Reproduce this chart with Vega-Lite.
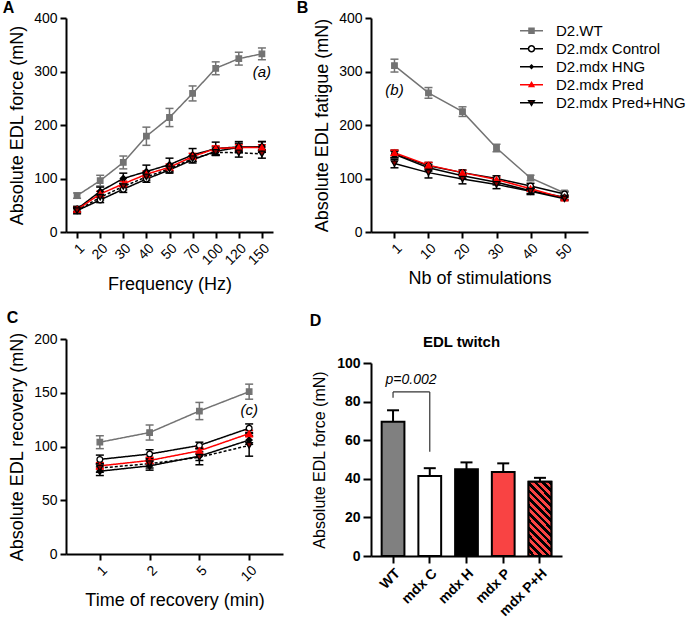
{
  "$schema": "https://vega.github.io/schema/vega-lite/v6.json",
  "padding": {"left": 2, "top": 0, "right": 0, "bottom": 0},
  "config": {
    "font": "Liberation Sans",
    "view": {"stroke": null},
    "axis": {"domainColor": "black", "domainWidth": 2, "tickColor": "black", "tickWidth": 2, "tickSize": 6, "labelFont": "Liberation Sans", "labelFontSize": 14, "labelColor": "black", "labelPadding": 3, "titleFont": "Liberation Sans", "titleFontSize": 18, "titleFontWeight": "normal", "titleColor": "black", "titlePadding": 7, "grid": false},
    "title": {"fontSize": 16, "fontWeight": "bold", "anchor": "start", "frame": "bounds", "offset": -5, "color": "black", "font": "Liberation Sans"}
  },
  "datasets": {
    "A": [
      {"x": 1, "group": "D2.WT", "mean": 68, "lo": 63, "hi": 73},
      {"x": 20, "group": "D2.WT", "mean": 96, "lo": 86, "hi": 106},
      {"x": 30, "group": "D2.WT", "mean": 130, "lo": 118, "hi": 142},
      {"x": 40, "group": "D2.WT", "mean": 179, "lo": 162, "hi": 196},
      {"x": 50, "group": "D2.WT", "mean": 214, "lo": 197, "hi": 231},
      {"x": 70, "group": "D2.WT", "mean": 259, "lo": 245, "hi": 273},
      {"x": 100, "group": "D2.WT", "mean": 306, "lo": 294, "hi": 318},
      {"x": 120, "group": "D2.WT", "mean": 324, "lo": 312, "hi": 336},
      {"x": 150, "group": "D2.WT", "mean": 333, "lo": 322, "hi": 344},
      {"x": 1, "group": "D2.mdx Control", "mean": 40, "lo": 36, "hi": 44},
      {"x": 20, "group": "D2.mdx Control", "mean": 60, "lo": 55, "hi": 65},
      {"x": 30, "group": "D2.mdx Control", "mean": 80, "lo": 74, "hi": 86},
      {"x": 40, "group": "D2.mdx Control", "mean": 99, "lo": 93, "hi": 105},
      {"x": 50, "group": "D2.mdx Control", "mean": 116, "lo": 110, "hi": 122},
      {"x": 70, "group": "D2.mdx Control", "mean": 135, "lo": 129, "hi": 141},
      {"x": 100, "group": "D2.mdx Control", "mean": 151, "lo": 143, "hi": 159},
      {"x": 120, "group": "D2.mdx Control", "mean": 158, "lo": 150, "hi": 166},
      {"x": 150, "group": "D2.mdx Control", "mean": 159, "lo": 149, "hi": 169},
      {"x": 1, "group": "D2.mdx HNG", "mean": 43, "lo": 38, "hi": 48},
      {"x": 20, "group": "D2.mdx HNG", "mean": 76, "lo": 68, "hi": 84},
      {"x": 30, "group": "D2.mdx HNG", "mean": 100, "lo": 90, "hi": 110},
      {"x": 40, "group": "D2.mdx HNG", "mean": 113, "lo": 101, "hi": 125},
      {"x": 50, "group": "D2.mdx HNG", "mean": 126, "lo": 114, "hi": 138},
      {"x": 70, "group": "D2.mdx HNG", "mean": 144, "lo": 132, "hi": 156},
      {"x": 100, "group": "D2.mdx HNG", "mean": 156, "lo": 144, "hi": 168},
      {"x": 120, "group": "D2.mdx HNG", "mean": 159, "lo": 149, "hi": 169},
      {"x": 150, "group": "D2.mdx HNG", "mean": 159, "lo": 149, "hi": 169},
      {"x": 1, "group": "D2.mdx Pred", "mean": 42, "lo": 38, "hi": 46},
      {"x": 20, "group": "D2.mdx Pred", "mean": 71, "lo": 66, "hi": 76},
      {"x": 30, "group": "D2.mdx Pred", "mean": 90, "lo": 85, "hi": 95},
      {"x": 40, "group": "D2.mdx Pred", "mean": 108, "lo": 102, "hi": 114},
      {"x": 50, "group": "D2.mdx Pred", "mean": 121, "lo": 115, "hi": 127},
      {"x": 70, "group": "D2.mdx Pred", "mean": 141, "lo": 135, "hi": 147},
      {"x": 100, "group": "D2.mdx Pred", "mean": 156, "lo": 151, "hi": 161},
      {"x": 120, "group": "D2.mdx Pred", "mean": 158, "lo": 153, "hi": 163},
      {"x": 150, "group": "D2.mdx Pred", "mean": 158, "lo": 153, "hi": 163},
      {"x": 1, "group": "D2.mdx Pred+HNG", "mean": 40, "lo": 34, "hi": 46},
      {"x": 20, "group": "D2.mdx Pred+HNG", "mean": 65, "lo": 60, "hi": 70},
      {"x": 30, "group": "D2.mdx Pred+HNG", "mean": 85, "lo": 79, "hi": 91},
      {"x": 40, "group": "D2.mdx Pred+HNG", "mean": 103, "lo": 97, "hi": 109},
      {"x": 50, "group": "D2.mdx Pred+HNG", "mean": 118, "lo": 112, "hi": 124},
      {"x": 70, "group": "D2.mdx Pred+HNG", "mean": 137, "lo": 132, "hi": 142},
      {"x": 100, "group": "D2.mdx Pred+HNG", "mean": 149, "lo": 144, "hi": 154},
      {"x": 120, "group": "D2.mdx Pred+HNG", "mean": 148, "lo": 140, "hi": 156},
      {"x": 150, "group": "D2.mdx Pred+HNG", "mean": 146, "lo": 138, "hi": 154}
    ],
    "B": [
      {"x": 1, "group": "D2.WT", "mean": 311, "lo": 299, "hi": 323},
      {"x": 10, "group": "D2.WT", "mean": 260, "lo": 250, "hi": 270},
      {"x": 20, "group": "D2.WT", "mean": 225, "lo": 216, "hi": 234},
      {"x": 30, "group": "D2.WT", "mean": 157, "lo": 150, "hi": 164},
      {"x": 40, "group": "D2.WT", "mean": 101, "lo": 96, "hi": 106},
      {"x": 50, "group": "D2.WT", "mean": 73, "lo": 69, "hi": 77},
      {"x": 1, "group": "D2.mdx Control", "mean": 146, "lo": 139, "hi": 153},
      {"x": 10, "group": "D2.mdx Control", "mean": 124, "lo": 118, "hi": 130},
      {"x": 20, "group": "D2.mdx Control", "mean": 111, "lo": 106, "hi": 116},
      {"x": 30, "group": "D2.mdx Control", "mean": 100, "lo": 95, "hi": 105},
      {"x": 40, "group": "D2.mdx Control", "mean": 86, "lo": 81, "hi": 91},
      {"x": 50, "group": "D2.mdx Control", "mean": 71, "lo": 67, "hi": 75},
      {"x": 1, "group": "D2.mdx HNG", "mean": 145, "lo": 139, "hi": 151},
      {"x": 10, "group": "D2.mdx HNG", "mean": 120, "lo": 114, "hi": 126},
      {"x": 20, "group": "D2.mdx HNG", "mean": 105, "lo": 100, "hi": 110},
      {"x": 30, "group": "D2.mdx HNG", "mean": 93, "lo": 88, "hi": 98},
      {"x": 40, "group": "D2.mdx HNG", "mean": 77, "lo": 72, "hi": 82},
      {"x": 50, "group": "D2.mdx HNG", "mean": 65, "lo": 61, "hi": 69},
      {"x": 1, "group": "D2.mdx Pred", "mean": 148, "lo": 143, "hi": 153},
      {"x": 10, "group": "D2.mdx Pred", "mean": 125, "lo": 120, "hi": 130},
      {"x": 20, "group": "D2.mdx Pred", "mean": 111, "lo": 107, "hi": 115},
      {"x": 30, "group": "D2.mdx Pred", "mean": 98, "lo": 94, "hi": 102},
      {"x": 40, "group": "D2.mdx Pred", "mean": 81, "lo": 77, "hi": 85},
      {"x": 50, "group": "D2.mdx Pred", "mean": 63, "lo": 60, "hi": 66},
      {"x": 1, "group": "D2.mdx Pred+HNG", "mean": 128, "lo": 120, "hi": 136},
      {"x": 10, "group": "D2.mdx Pred+HNG", "mean": 111, "lo": 101, "hi": 121},
      {"x": 20, "group": "D2.mdx Pred+HNG", "mean": 99, "lo": 90, "hi": 108},
      {"x": 30, "group": "D2.mdx Pred+HNG", "mean": 89, "lo": 81, "hi": 97},
      {"x": 40, "group": "D2.mdx Pred+HNG", "mean": 76, "lo": 70, "hi": 82},
      {"x": 50, "group": "D2.mdx Pred+HNG", "mean": 62, "lo": 59, "hi": 65}
    ],
    "C": [
      {"x": 1, "group": "D2.WT", "mean": 104, "lo": 98, "hi": 110},
      {"x": 2, "group": "D2.WT", "mean": 113, "lo": 106, "hi": 120},
      {"x": 5, "group": "D2.WT", "mean": 133, "lo": 125, "hi": 141},
      {"x": 10, "group": "D2.WT", "mean": 151, "lo": 144, "hi": 158},
      {"x": 1, "group": "D2.mdx Control", "mean": 88, "lo": 84, "hi": 92},
      {"x": 2, "group": "D2.mdx Control", "mean": 93, "lo": 89, "hi": 97},
      {"x": 5, "group": "D2.mdx Control", "mean": 101, "lo": 98, "hi": 104},
      {"x": 10, "group": "D2.mdx Control", "mean": 117, "lo": 113, "hi": 121},
      {"x": 1, "group": "D2.mdx HNG", "mean": 77, "lo": 73, "hi": 81},
      {"x": 2, "group": "D2.mdx HNG", "mean": 82, "lo": 78, "hi": 86},
      {"x": 5, "group": "D2.mdx HNG", "mean": 91, "lo": 87, "hi": 95},
      {"x": 10, "group": "D2.mdx HNG", "mean": 106, "lo": 102, "hi": 110},
      {"x": 1, "group": "D2.mdx Pred", "mean": 82, "lo": 79, "hi": 85},
      {"x": 2, "group": "D2.mdx Pred", "mean": 87, "lo": 84, "hi": 90},
      {"x": 5, "group": "D2.mdx Pred", "mean": 96, "lo": 93, "hi": 99},
      {"x": 10, "group": "D2.mdx Pred", "mean": 112, "lo": 109, "hi": 115},
      {"x": 1, "group": "D2.mdx Pred+HNG", "mean": 80, "lo": 76, "hi": 84},
      {"x": 2, "group": "D2.mdx Pred+HNG", "mean": 84, "lo": 80, "hi": 88},
      {"x": 5, "group": "D2.mdx Pred+HNG", "mean": 90, "lo": 83, "hi": 98},
      {"x": 10, "group": "D2.mdx Pred+HNG", "mean": 101, "lo": 91, "hi": 112}
    ],
    "D": [
      {"bar": "WT", "mean": 69.5, "hi": 75.5},
      {"bar": "mdx C", "mean": 41.5, "hi": 45.5},
      {"bar": "mdx H", "mean": 45, "hi": 48.5},
      {"bar": "mdx P", "mean": 43.5, "hi": 48},
      {"bar": "mdx P+H", "mean": 38.5, "hi": 40.5}
    ]
  },
  "concat": [
    {
      "width": 207, "height": 214,
      "title": {"text": "A", "dx": -6},
      "data": {"name": "A"},
      "encoding": {
        "x": {"field": "x", "type": "ordinal", "scale": {"type": "point", "padding": 0.48}, "axis": {"labelAngle": -45, "title": "Frequency (Hz)", "titlePadding": 8}}
      },
      "layer": [
        {"mark": {"type": "rule", "strokeWidth": 1.5},
         "encoding": {"y": {"field": "lo", "type": "quantitative", "title": "Absolute EDL force (mN)", "scale": {"domain": [0, 400]}, "axis": {"values": [0, 100, 200, 300, 400]}}, "y2": {"field": "hi"},
           "stroke": {"field": "group", "type": "nominal", "scale": {"domain": ["D2.WT", "D2.mdx Control", "D2.mdx HNG", "D2.mdx Pred", "D2.mdx Pred+HNG"], "range": ["#737373", "black", "black", "#ff0000", "black"]}, "legend": null}}},
        {"mark": {"type": "rule", "strokeWidth": 1.5, "xOffset": -4, "x2Offset": 4},
         "encoding": {"x2": {"field": "x"}, "y": {"field": "lo", "type": "quantitative", "title": "Absolute EDL force (mN)"}, "stroke": {"field": "group", "type": "nominal"}}},
        {"mark": {"type": "rule", "strokeWidth": 1.5, "xOffset": -4, "x2Offset": 4},
         "encoding": {"x2": {"field": "x"}, "y": {"field": "hi", "type": "quantitative", "title": "Absolute EDL force (mN)"}, "stroke": {"field": "group", "type": "nominal"}}},
        {"mark": {"type": "line", "strokeWidth": 1.5},
         "encoding": {"y": {"field": "mean", "type": "quantitative", "title": "Absolute EDL force (mN)"}, "stroke": {"field": "group", "type": "nominal"},
           "strokeDash": {"field": "group", "type": "nominal", "scale": {"domain": ["D2.WT", "D2.mdx Control", "D2.mdx HNG", "D2.mdx Pred", "D2.mdx Pred+HNG"], "range": [[1, 0], [1, 0], [1, 0], [1, 0], [3, 2]]}, "legend": null}}},
        {"mark": {"type": "point", "filled": true, "strokeWidth": 1.3, "opacity": 1},
         "encoding": {"y": {"field": "mean", "type": "quantitative", "title": "Absolute EDL force (mN)"}, "stroke": {"field": "group", "type": "nominal"},
           "shape": {"field": "group", "type": "nominal", "scale": {"domain": ["D2.WT", "D2.mdx Control", "D2.mdx HNG", "D2.mdx Pred", "D2.mdx Pred+HNG"], "range": ["square", "circle", "diamond", "triangle-up", "triangle-down"]}, "legend": null},
           "fill": {"field": "group", "type": "nominal", "scale": {"domain": ["D2.WT", "D2.mdx Control", "D2.mdx HNG", "D2.mdx Pred", "D2.mdx Pred+HNG"], "range": ["#737373", "white", "black", "#ff0000", "#8b0000"]}, "legend": null},
           "size": {"field": "group", "type": "nominal", "scale": {"domain": ["D2.WT", "D2.mdx Control", "D2.mdx HNG", "D2.mdx Pred", "D2.mdx Pred+HNG"], "range": [30, 40, 14, 26, 34]}, "legend": null}}},
        {"data": {"values": [{"x": 150, "y": 300, "label": "(a)"}]},
         "mark": {"type": "text", "fontStyle": "italic", "fontSize": 15, "color": "black"},
         "encoding": {"y": {"field": "y", "type": "quantitative", "title": "Absolute EDL force (mN)"}, "text": {"field": "label"}}}
      ]
    },
    {
      "width": 217, "height": 214,
      "title": {"text": "B", "dx": -17},
      "data": {"name": "B"},
      "encoding": {
        "x": {"field": "x", "type": "ordinal", "scale": {"type": "point", "padding": 0.69}, "axis": {"labelAngle": -45, "title": "Nb of stimulations", "titlePadding": 8}}
      },
      "layer": [
        {"mark": {"type": "rule", "strokeWidth": 1.5},
         "encoding": {"y": {"field": "lo", "type": "quantitative", "title": "Absolute EDL fatigue (mN)", "scale": {"domain": [0, 400]}, "axis": {"values": [0, 100, 200, 300, 400]}}, "y2": {"field": "hi"},
           "stroke": {"field": "group", "type": "nominal", "scale": {"domain": ["D2.WT", "D2.mdx Control", "D2.mdx HNG", "D2.mdx Pred", "D2.mdx Pred+HNG"], "range": ["#737373", "black", "black", "#ff0000", "black"]},
             "legend": {"title": null, "orient": "none", "legendX": 148, "legendY": 5, "padding": 0, "labelFontSize": 15, "labelFont": "Liberation Sans", "labelColor": "black", "symbolSize": 529, "symbolStrokeWidth": 1.5, "labelOffset": 12, "rowPadding": 2, "clipHeight": 15.5,
               "encode": {"symbols": {"update": {
                 "shape": {"signal": "datum.value === 'D2.WT' ? 'M-1,0H1M-0.22,-0.22H0.22V0.22H-0.22Z' : datum.value === 'D2.mdx Control' ? 'M-1,0H-0.26M0.26,0H1M0.26,0A0.26,0.26,0,1,1,-0.26,0A0.26,0.26,0,1,1,0.26,0Z' : datum.value === 'D2.mdx HNG' ? 'M-1,0H1M0,-0.14L0.14,0L0,0.14L-0.14,0Z' : datum.value === 'D2.mdx Pred' ? 'M-1,0H1M0,-0.2L0.2,0.15H-0.2Z' : 'M-1,0H1M-0.24,-0.17H0.24L0,0.22Z'"},
                 "fill": {"signal": "datum.value === 'D2.WT' ? '#737373' : datum.value === 'D2.mdx Control' ? 'white' : datum.value === 'D2.mdx HNG' ? 'black' : datum.value === 'D2.mdx Pred' ? '#ff0000' : '#8b0000'"},
                 "stroke": {"signal": "datum.value === 'D2.WT' ? '#737373' : datum.value === 'D2.mdx Pred' ? '#ff0000' : 'black'"},
                 "size": {"value": 529}, "opacity": {"value": 1}, "fillOpacity": {"value": 1}, "strokeWidth": {"value": 1.5}
               }}}}}}},
        {"mark": {"type": "rule", "strokeWidth": 1.5, "xOffset": -4, "x2Offset": 4},
         "encoding": {"x2": {"field": "x"}, "y": {"field": "lo", "type": "quantitative", "title": "Absolute EDL fatigue (mN)"}, "stroke": {"field": "group", "type": "nominal"}}},
        {"mark": {"type": "rule", "strokeWidth": 1.5, "xOffset": -4, "x2Offset": 4},
         "encoding": {"x2": {"field": "x"}, "y": {"field": "hi", "type": "quantitative", "title": "Absolute EDL fatigue (mN)"}, "stroke": {"field": "group", "type": "nominal"}}},
        {"mark": {"type": "line", "strokeWidth": 1.5},
         "encoding": {"y": {"field": "mean", "type": "quantitative", "title": "Absolute EDL fatigue (mN)"}, "stroke": {"field": "group", "type": "nominal"}}},
        {"mark": {"type": "point", "filled": true, "strokeWidth": 1.3, "opacity": 1},
         "encoding": {"y": {"field": "mean", "type": "quantitative", "title": "Absolute EDL fatigue (mN)"}, "stroke": {"field": "group", "type": "nominal"},
           "shape": {"field": "group", "type": "nominal", "legend": null}, "fill": {"field": "group", "type": "nominal", "legend": null}, "size": {"field": "group", "type": "nominal", "legend": null}}},
        {"data": {"values": [{"x": 1, "y": 266, "label": "(b)"}]},
         "mark": {"type": "text", "fontStyle": "italic", "fontSize": 15, "color": "black"},
         "encoding": {"y": {"field": "y", "type": "quantitative", "title": "Absolute EDL fatigue (mN)"}, "text": {"field": "label"}}}
      ]
    },
    {
      "width": 217, "height": 215,
      "title": {"text": "C", "dx": -2, "offset": 6},
      "data": {"name": "C"},
      "encoding": {
        "x": {"field": "x", "type": "ordinal", "scale": {"type": "point", "padding": 0.68}, "axis": {"labelAngle": -45, "title": "Time of recovery (min)", "titlePadding": 8}}
      },
      "layer": [
        {"mark": {"type": "rule", "strokeWidth": 1.5},
         "encoding": {"y": {"field": "lo", "type": "quantitative", "title": "Absolute EDL recovery (mN)", "scale": {"domain": [0, 200]}, "axis": {"values": [0, 50, 100, 150, 200]}}, "y2": {"field": "hi"},
           "stroke": {"field": "group", "type": "nominal", "scale": {"domain": ["D2.WT", "D2.mdx Control", "D2.mdx HNG", "D2.mdx Pred", "D2.mdx Pred+HNG"], "range": ["#737373", "black", "black", "#ff0000", "black"]}, "legend": null}}},
        {"mark": {"type": "rule", "strokeWidth": 1.5, "xOffset": -4, "x2Offset": 4},
         "encoding": {"x2": {"field": "x"}, "y": {"field": "lo", "type": "quantitative", "title": "Absolute EDL recovery (mN)"}, "stroke": {"field": "group", "type": "nominal"}}},
        {"mark": {"type": "rule", "strokeWidth": 1.5, "xOffset": -4, "x2Offset": 4},
         "encoding": {"x2": {"field": "x"}, "y": {"field": "hi", "type": "quantitative", "title": "Absolute EDL recovery (mN)"}, "stroke": {"field": "group", "type": "nominal"}}},
        {"mark": {"type": "line", "strokeWidth": 1.5},
         "encoding": {"y": {"field": "mean", "type": "quantitative", "title": "Absolute EDL recovery (mN)"}, "stroke": {"field": "group", "type": "nominal"}, "strokeDash": {"field": "group", "type": "nominal", "legend": null}}},
        {"mark": {"type": "point", "filled": true, "strokeWidth": 1.3, "opacity": 1},
         "encoding": {"y": {"field": "mean", "type": "quantitative", "title": "Absolute EDL recovery (mN)"}, "stroke": {"field": "group", "type": "nominal"},
           "shape": {"field": "group", "type": "nominal", "legend": null}, "fill": {"field": "group", "type": "nominal", "legend": null}, "size": {"field": "group", "type": "nominal", "legend": null}}},
        {"data": {"values": [{"x": 10, "y": 134, "label": "(c)"}]},
         "mark": {"type": "text", "fontStyle": "italic", "fontSize": 15, "color": "black"},
         "encoding": {"y": {"field": "y", "type": "quantitative", "title": "Absolute EDL recovery (mN)"}, "text": {"field": "label"}}}
      ]
    },
    {
      "width": 191, "height": 217,
      "title": {"text": "D", "dx": -2, "offset": 6},
      "data": {"name": "D"},
      "encoding": {
        "x": {"field": "bar", "type": "nominal", "sort": ["WT", "mdx C", "mdx H", "mdx P", "mdx P+H"], "scale": {"paddingInner": 0.38, "paddingOuter": 0.29}, "axis": {"labelAngle": -45, "title": null, "labelFontWeight": "bold", "tickSize": 7}}
      },
      "layer": [
        {"mark": {"type": "bar", "stroke": "black", "strokeWidth": 2},
         "encoding": {"y": {"field": "mean", "type": "quantitative", "title": "Absolute EDL force (mN)", "scale": {"domain": [0, 100], "range": [217, 24]}, "axis": {"values": [0, 20, 40, 60, 80, 100], "labelFontWeight": "bold", "titleFontSize": 16, "tickSize": 8, "titlePadding": 9}},
           "color": {"field": "bar", "type": "nominal", "scale": {"domain": ["WT", "mdx C", "mdx H", "mdx P", "mdx P+H"], "range": ["#808080", "#ffffff", "#000000", "#f94343", "#f94343"]}, "legend": null}}},
        {"transform": [{"filter": "datum.bar === 'mdx P+H'"}],
         "mark": {"type": "bar", "stroke": "black", "strokeWidth": 2, "fill": {"gradient": "linear", "x1": 0, "y1": 1, "x2": 0.372, "y2": -0.195, "stops": [
           {"offset": 0, "color": "#f94343"}, {"offset": 0.0385, "color": "#f94343"}, {"offset": 0.0385, "color": "#000000"}, {"offset": 0.0769, "color": "#000000"},
           {"offset": 0.0769, "color": "#f94343"}, {"offset": 0.1154, "color": "#f94343"}, {"offset": 0.1154, "color": "#000000"}, {"offset": 0.1538, "color": "#000000"},
           {"offset": 0.1538, "color": "#f94343"}, {"offset": 0.1923, "color": "#f94343"}, {"offset": 0.1923, "color": "#000000"}, {"offset": 0.2308, "color": "#000000"},
           {"offset": 0.2308, "color": "#f94343"}, {"offset": 0.2692, "color": "#f94343"}, {"offset": 0.2692, "color": "#000000"}, {"offset": 0.3077, "color": "#000000"},
           {"offset": 0.3077, "color": "#f94343"}, {"offset": 0.3462, "color": "#f94343"}, {"offset": 0.3462, "color": "#000000"}, {"offset": 0.3846, "color": "#000000"},
           {"offset": 0.3846, "color": "#f94343"}, {"offset": 0.4231, "color": "#f94343"}, {"offset": 0.4231, "color": "#000000"}, {"offset": 0.4615, "color": "#000000"},
           {"offset": 0.4615, "color": "#f94343"}, {"offset": 0.5, "color": "#f94343"}, {"offset": 0.5, "color": "#000000"}, {"offset": 0.5385, "color": "#000000"},
           {"offset": 0.5385, "color": "#f94343"}, {"offset": 0.5769, "color": "#f94343"}, {"offset": 0.5769, "color": "#000000"}, {"offset": 0.6154, "color": "#000000"},
           {"offset": 0.6154, "color": "#f94343"}, {"offset": 0.6538, "color": "#f94343"}, {"offset": 0.6538, "color": "#000000"}, {"offset": 0.6923, "color": "#000000"},
           {"offset": 0.6923, "color": "#f94343"}, {"offset": 0.7308, "color": "#f94343"}, {"offset": 0.7308, "color": "#000000"}, {"offset": 0.7692, "color": "#000000"},
           {"offset": 0.7692, "color": "#f94343"}, {"offset": 0.8077, "color": "#f94343"}, {"offset": 0.8077, "color": "#000000"}, {"offset": 0.8462, "color": "#000000"},
           {"offset": 0.8462, "color": "#f94343"}, {"offset": 0.8846, "color": "#f94343"}, {"offset": 0.8846, "color": "#000000"}, {"offset": 0.9231, "color": "#000000"},
           {"offset": 0.9231, "color": "#f94343"}, {"offset": 0.9615, "color": "#f94343"}, {"offset": 0.9615, "color": "#000000"}, {"offset": 1, "color": "#000000"}
         ]}},
         "encoding": {"y": {"field": "mean", "type": "quantitative", "title": "Absolute EDL force (mN)"}}},
        {"mark": {"type": "rule", "strokeWidth": 2, "color": "black"},
         "encoding": {"y": {"field": "mean", "type": "quantitative", "title": "Absolute EDL force (mN)"}, "y2": {"field": "hi"}}},
        {"mark": {"type": "rule", "strokeWidth": 2, "color": "black", "xOffset": -6, "x2Offset": 6},
         "encoding": {"x2": {"field": "bar"}, "y": {"field": "hi", "type": "quantitative", "title": "Absolute EDL force (mN)"}}},
        {"data": {"values": [{"bar": "WT", "bar2": "WT", "y": 82, "y2": 85}, {"bar": "WT", "bar2": "mdx C", "y": 85, "y2": 85}, {"bar": "mdx C", "bar2": "mdx C", "y": 85, "y2": 54}]},
         "mark": {"type": "rule", "strokeWidth": 1.2, "color": "#333333"},
         "encoding": {"x2": {"field": "bar2"}, "y": {"field": "y", "type": "quantitative", "title": "Absolute EDL force (mN)"}, "y2": {"field": "y2"}}},
        {"data": {"values": [{"bar": "WT", "y": 91, "label": "p=0.002"}]},
         "mark": {"type": "text", "fontStyle": "italic", "fontSize": 14, "color": "black", "dx": 18},
         "encoding": {"y": {"field": "y", "type": "quantitative", "title": "Absolute EDL force (mN)"}, "text": {"field": "label"}}},
        {"data": {"values": [{"bar": "mdx H", "y": 111, "label": "EDL twitch"}]},
         "mark": {"type": "text", "fontWeight": "bold", "fontSize": 15, "color": "black", "dx": -5},
         "encoding": {"y": {"field": "y", "type": "quantitative", "title": "Absolute EDL force (mN)"}, "text": {"field": "label"}}}
      ]
    }
  ],
  "columns": 2,
  "spacing": {"row": 107, "column": 88},
  "bounds": "flush",
  "resolve": {"scale": {"stroke": "independent"}, "legend": {"stroke": "independent"}}
}
